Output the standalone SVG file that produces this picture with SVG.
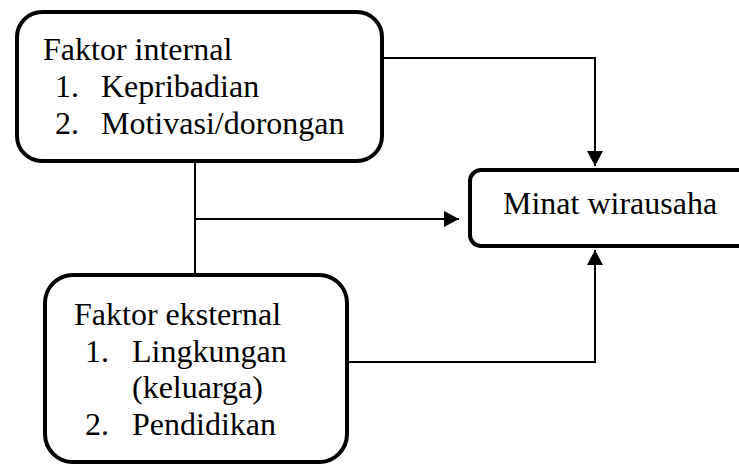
<svg xmlns="http://www.w3.org/2000/svg" width="739" height="465" viewBox="0 0 739 465">
<style>
.box{fill:#fff;stroke:#000;stroke-width:4}
.t{font-family:'Liberation Serif','Times New Roman',Times,'DejaVu Serif',serif;font-size:32px;fill:#000}
.c{fill:none;stroke:#000;stroke-width:2}
</style>
<defs>
<marker id="ah" markerUnits="userSpaceOnUse" markerWidth="16" markerHeight="16" viewBox="0 0 16 16" refX="15" refY="8" orient="auto">
<path d="M0,0 L15,8 L0,16 Z" fill="#000"/>
</marker>
</defs>
<rect width="739" height="465" fill="#fff"/>
<g id="connectors">
<path class="c" d="M382,58 H595 V166" marker-end="url(#ah)"/>
<path class="c" d="M195,161 V275"/>
<path class="c" d="M195,219 H459" marker-end="url(#ah)"/>
<path class="c" d="M347,362 H595 V250" marker-end="url(#ah)"/>
</g>
<g id="internal">
<rect class="box" x="17" y="12" width="365" height="149" rx="25"/>
<text class="t" x="43" y="60" font-family="Liberation Serif, serif">Faktor internal</text>
<text class="t" x="55" y="97">1.</text>
<text class="t" x="101" y="97">Kepribadian</text>
<text class="t" x="55" y="134">2.</text>
<text class="t" x="101" y="134">Motivasi/dorongan</text>
</g>
<g id="eksternal">
<rect class="box" x="45" y="275" width="302" height="187" rx="28"/>
<text class="t" x="74" y="325">Faktor eksternal</text>
<text class="t" x="85" y="362">1.</text>
<text class="t" x="132" y="362">Lingkungan</text>
<text class="t" x="132" y="398">(keluarga)</text>
<text class="t" x="85" y="435">2.</text>
<text class="t" x="132" y="435">Pendidikan</text>
</g>
<g id="minat">
<rect class="box" x="470" y="170" width="290" height="76" rx="11"/>
<text class="t" x="503" y="214">Minat wirausaha</text>
</g>
</svg>
